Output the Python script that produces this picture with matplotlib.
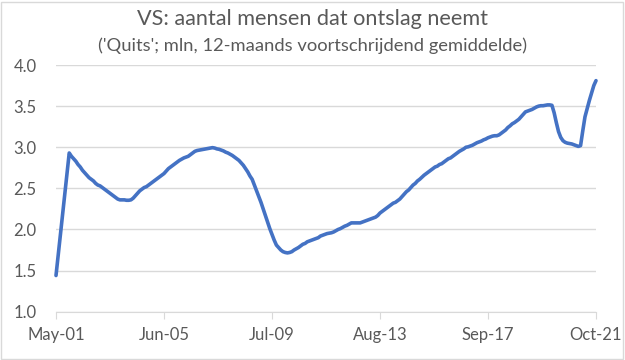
import numpy as np
import pandas as pd
import matplotlib
matplotlib.use('Agg')
import matplotlib.pyplot as plt
from matplotlib.patches import Rectangle

## Data: 'Quits' (mln), 12-month moving average, monthly May-2001 .. Oct-2021
q2001 = [1.44, 1.69, 1.94, 2.19, 2.44, 2.69, 2.93, 2.89]   # May-Dec
q2002 = [2.86, 2.83, 2.79, 2.76, 2.72, 2.69, 2.66, 2.63, 2.61, 2.59, 2.56, 2.54]
q2003 = [2.53, 2.51, 2.49, 2.47, 2.45, 2.43, 2.41, 2.39, 2.37, 2.36, 2.36, 2.36]
q2004 = [2.355, 2.355, 2.36, 2.38, 2.41, 2.44, 2.47, 2.49, 2.51, 2.52, 2.54, 2.56]
q2005 = [2.58, 2.60, 2.62, 2.64, 2.66, 2.68, 2.71, 2.74, 2.76, 2.78, 2.80, 2.82]
q2006 = [2.84, 2.855, 2.87, 2.88, 2.89, 2.91, 2.93, 2.95, 2.96, 2.965, 2.97, 2.975]
q2007 = [2.98, 2.985, 2.99, 2.995, 2.99, 2.98, 2.975, 2.965, 2.955, 2.94, 2.93, 2.915]
q2008 = [2.90, 2.88, 2.86, 2.84, 2.81, 2.78, 2.74, 2.70, 2.65, 2.61, 2.54, 2.47]
q2009 = [2.40, 2.33, 2.25, 2.17, 2.09, 2.01, 1.94, 1.87, 1.81, 1.78, 1.75, 1.73]
q2010 = [1.72, 1.715, 1.72, 1.73, 1.75, 1.765, 1.78, 1.80, 1.82, 1.83, 1.85, 1.86]
q2011 = [1.87, 1.88, 1.89, 1.90, 1.92, 1.93, 1.94, 1.95, 1.955, 1.96, 1.97, 1.985]
q2012 = [2.00, 2.01, 2.025, 2.04, 2.05, 2.065, 2.08, 2.08, 2.08, 2.08, 2.08, 2.09]
q2013 = [2.10, 2.11, 2.12, 2.13, 2.14, 2.15, 2.17, 2.20, 2.22, 2.24, 2.26, 2.28]
q2014 = [2.30, 2.32, 2.33, 2.35, 2.37, 2.40, 2.43, 2.46, 2.48, 2.51, 2.54, 2.56]
q2015 = [2.59, 2.61, 2.635, 2.66, 2.68, 2.70, 2.72, 2.74, 2.76, 2.77, 2.79, 2.80]
q2016 = [2.82, 2.84, 2.86, 2.87, 2.89, 2.91, 2.93, 2.95, 2.965, 2.98, 3.00, 3.005]
q2017 = [3.015, 3.025, 3.04, 3.055, 3.065, 3.075, 3.09, 3.10, 3.115, 3.125, 3.135, 3.14]
q2018 = [3.14, 3.15, 3.17, 3.19, 3.21, 3.24, 3.26, 3.285, 3.30, 3.32, 3.34, 3.37]
q2019 = [3.40, 3.43, 3.44, 3.45, 3.46, 3.475, 3.49, 3.50, 3.505, 3.505, 3.51, 3.515]
q2020 = [3.515, 3.51, 3.42, 3.30, 3.19, 3.12, 3.08, 3.06, 3.05, 3.045, 3.04, 3.03]
q2021 = [3.02, 3.01, 3.02, 3.20, 3.37, 3.47, 3.57, 3.66, 3.75, 3.81]   # Jan-Oct

quits = (q2001 + q2002 + q2003 + q2004 + q2005 + q2006 + q2007 + q2008 + q2009
         + q2010 + q2011 + q2012 + q2013 + q2014 + q2015 + q2016 + q2017
         + q2018 + q2019 + q2020 + q2021)
months = pd.date_range('2001-05-01', periods=len(quits), freq='MS')
tick_labels = ['May-01', 'Jun-05', 'Jul-09', 'Aug-13', 'Sep-17', 'Oct-21']
y_ticks = [1.0, 1.5, 2.0, 2.5, 3.0, 3.5, 4.0]

plt.rcParams['font.family'] = ['Lato', 'DejaVu Sans']
txt = '#595959'
grid = '#D9D9D9'

fig = plt.figure(figsize=(6.25, 3.6), dpi=100)
ax = fig.add_axes([0.0896, 0.1342, 0.864, 0.6852])

x = np.arange(len(months))
ax.plot(x, quits, color='#4472C4', lw=2.6, solid_capstyle='round', zorder=3, clip_on=False)

tick_pos = [list(months.strftime('%b-%y')).index(t) for t in tick_labels]
ax.set_xticks(tick_pos)
ax.set_xticklabels(tick_labels)
ax.set_xlim(0, len(months) - 1)
ax.set_ylim(1.0, 4.0)
ax.set_yticks(y_ticks)
ax.set_yticklabels([f'{v:.1f}' for v in y_ticks])

ax.grid(axis='y', color=grid, lw=1)
ax.set_axisbelow(True)
for s in ['top', 'right', 'left']:
    ax.spines[s].set_visible(False)
ax.spines['bottom'].set_color(grid)
ax.tick_params(axis='x', length=5, color=grid, labelcolor=txt, labelsize=12, pad=6)
ax.tick_params(axis='y', length=0, labelcolor=txt, labelsize=12, pad=14)

fig.text(0.5, 0.948, 'VS: aantal mensen dat ontslag neemt', ha='center', va='center',
         fontsize=15.6, color=txt)
fig.text(0.5, 0.872, "('Quits'; mln, 12-maands voortschrijdend gemiddelde)",
         ha='center', va='center', fontsize=13.2, color=txt)

fig.patches.append(Rectangle((0.002, 0.003), 0.995, 0.992, transform=fig.transFigure,
                             fill=False, edgecolor=grid, lw=1))

fig.savefig('out.png', dpi=100)
